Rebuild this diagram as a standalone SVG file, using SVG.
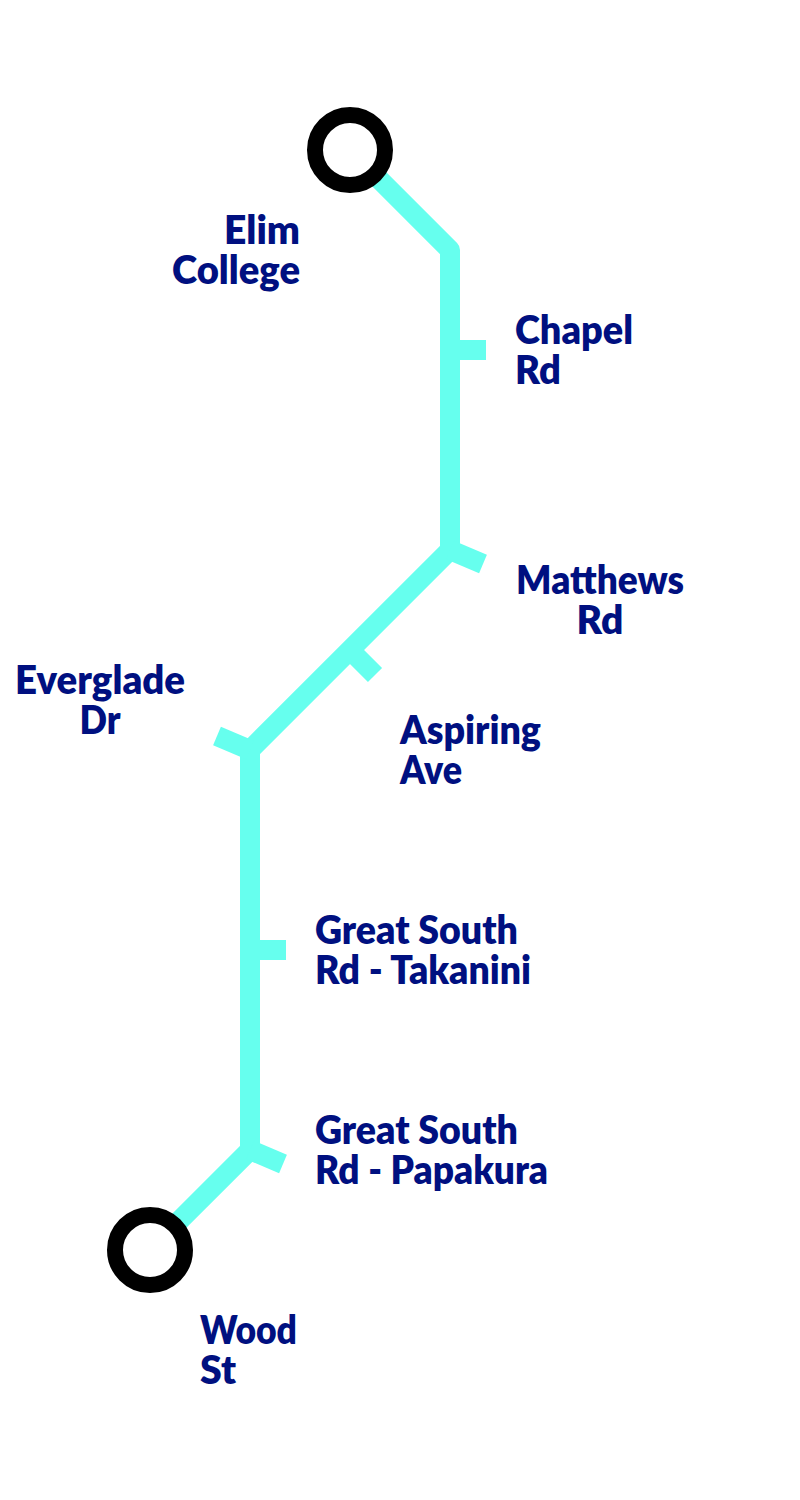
<svg xmlns="http://www.w3.org/2000/svg" width="800" height="1500" viewBox="0 0 800 1500">
<style>
.line{fill:none;stroke:#66ffee;stroke-width:20;stroke-linejoin:round}
.tick{fill:none;stroke:#66ffee;stroke-width:20}
.term{fill:#fff;stroke:#000;stroke-width:16}
text{font-family:"Lato","Noto Sans",sans-serif;font-weight:800;font-size:39px;fill:#001080}
.e{text-anchor:end}
.m{text-anchor:middle}
</style>
<g id="connectors">
<path class="line" d="M350 150L450 250V550L250 750V1150L150 1250"/>
<path class="tick" d="M450 350H486"/>
<path class="tick" d="M450 550L483 564"/>
<path class="tick" d="M350 650L375 675"/>
<path class="tick" d="M250 750L217 736"/>
<path class="tick" d="M250 950H286"/>
<path class="tick" d="M250 1150L283 1164"/>
</g>
<g id="elim"><circle class="term" cx="350" cy="150" r="35"/><text class="e" x="300" y="244" textLength="76" lengthAdjust="spacingAndGlyphs">Elim</text><text class="e" x="300" y="284" textLength="128" lengthAdjust="spacingAndGlyphs">College</text></g>
<g id="chapel"><text x="515" y="344" textLength="118" lengthAdjust="spacingAndGlyphs">Chapel</text><text x="515" y="384" textLength="46" lengthAdjust="spacingAndGlyphs">Rd</text></g>
<g id="matthews"><text class="m" x="600" y="594" textLength="168" lengthAdjust="spacingAndGlyphs">Matthews</text><text class="m" x="600" y="634" textLength="47" lengthAdjust="spacingAndGlyphs">Rd</text></g>
<g id="aspiring"><text x="400" y="744" textLength="141" lengthAdjust="spacingAndGlyphs">Aspiring</text><text x="400" y="784" textLength="62" lengthAdjust="spacingAndGlyphs">Ave</text></g>
<g id="everglade"><text class="m" x="100" y="694" textLength="170" lengthAdjust="spacingAndGlyphs">Everglade</text><text class="m" x="100" y="734" textLength="41" lengthAdjust="spacingAndGlyphs">Dr</text></g>
<g id="takanini"><text x="315" y="944" textLength="203" lengthAdjust="spacingAndGlyphs">Great South</text><text x="315" y="984" textLength="216" lengthAdjust="spacingAndGlyphs">Rd - Takanini</text></g>
<g id="papakura"><text x="315" y="1144" textLength="203" lengthAdjust="spacingAndGlyphs">Great South</text><text x="315" y="1184" textLength="233" lengthAdjust="spacingAndGlyphs">Rd - Papakura</text></g>
<g id="wood"><circle class="term" cx="150" cy="1250" r="35"/><text x="200" y="1344" textLength="97" lengthAdjust="spacingAndGlyphs">Wood</text><text x="200" y="1384" textLength="36" lengthAdjust="spacingAndGlyphs">St</text></g>
</svg>
